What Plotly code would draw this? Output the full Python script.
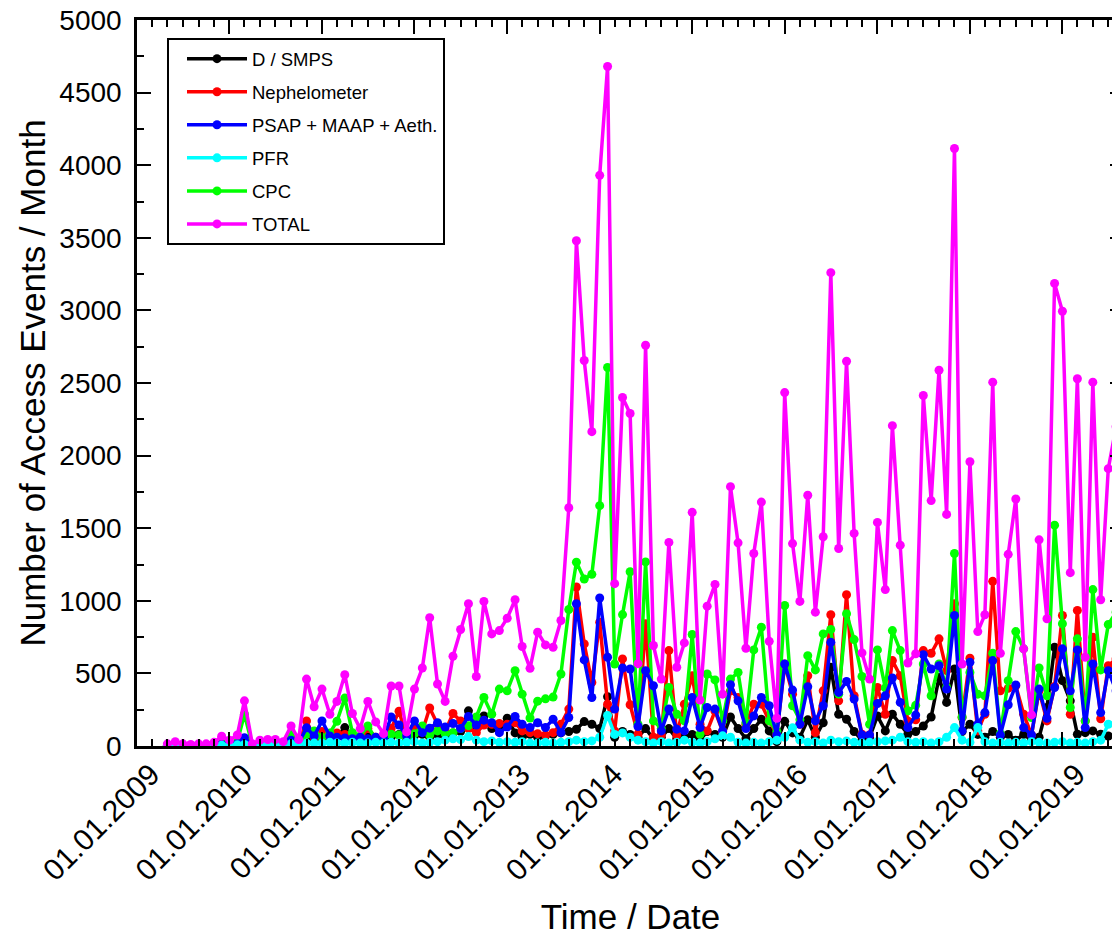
import pandas as pd
import plotly.graph_objects as go

# Monthly values, starting May 2009
start_month = "2009-05-01"

total = [15, 30, 15, 10, 15, 15, 25, 67, 40, 76,
         311, 15, 40, 45, 45, 30, 138, 45, 461, 270,
         392, 219, 307, 491, 224, 120, 307, 166, 85, 413,
         413, 97, 392, 537, 883, 427, 307, 618, 802, 980,
         479, 996, 772, 795, 880, 1007, 685, 535, 784, 696,
         680, 864, 1641, 3480, 2655, 2165, 3930, 4680, 1118, 2400,
         2290, 567, 2760, 692, 461, 1402, 542, 710, 1609, 316,
         963, 1113, 357, 1786, 1399, 673, 1326, 1680, 721, 191,
         2434, 1394, 996, 1727, 922, 1441, 3260, 1360, 2650, 1464,
         641, 461, 1540, 1077, 2206, 1383, 572, 635, 2414, 1690,
         2588, 1595, 4115, 565, 1958, 788, 904, 2506, 639, 1320,
         1701, 669, 214, 1420, 876, 3186, 2994, 1194, 2529, 611,
         2506, 1007, 1910, 2200]

cpc = [5, 5, 5, 5, 5, 5, 10, 20, 15, 30,
       219, 5, 10, 15, 15, 10, 81, 20, 80, 104,
       60, 90, 170, 330, 92, 69, 138, 45, 45, 81,
       76, 40, 85, 138, 76, 104, 85, 92, 120, 140,
       200, 334, 219, 392, 380, 519, 357, 193, 309, 325,
       337, 496, 940, 1266, 1150, 1182, 1655, 2607, 565, 905,
       1200, 150, 1268, 173, 120, 403, 219, 173, 768, 81,
       496, 455, 173, 461, 507, 161, 662, 818, 173, 100,
       968, 277, 180, 622, 524, 772, 802, 357, 911, 733,
       479, 150, 662, 400, 795, 657, 242, 280, 565, 346,
       565, 403, 1326, 200, 507, 357, 346, 639, 85, 450,
       788, 669, 196, 537, 346, 1521, 842, 265, 738, 173,
       1077, 524, 837, 922]

psap = [3, 3, 3, 3, 3, 3, 5, 10, 10, 15,
        57, 3, 10, 10, 10, 10, 40, 20, 125, 69,
        173, 69, 60, 55, 50, 60, 50, 60, 55, 200,
        145, 69, 173, 92, 123, 160, 130, 155, 120, 203,
        145, 178, 160, 92, 131, 203, 150, 127, 160, 127,
        184, 92, 196, 980, 593, 334, 1019, 611, 254, 537,
        530, 134, 519, 415, 104, 254, 116, 104, 334, 127,
        265, 254, 104, 422, 311, 120, 207, 334, 277, 76,
        565, 385, 150, 408, 173, 277, 714, 369, 445, 323,
        76, 76, 293, 346, 468, 300, 127, 213, 629, 530,
        553, 392, 899, 104, 576, 150, 230, 588, 76, 284,
        420, 127, 76, 392, 191, 403, 669, 380, 662, 127,
        565, 230, 519, 380]

neph = [2, 2, 2, 2, 2, 2, 5, 10, 5, 10,
        40, 2, 5, 5, 5, 5, 20, 10, 173, 60,
        100, 70, 90, 80, 60, 50, 120, 60, 50, 120,
        240, 60, 130, 100, 262, 150, 100, 224, 173, 120,
        92, 145, 150, 155, 150, 160, 104, 92, 85, 76,
        92, 150, 254, 1095, 703, 438, 853, 288, 104, 600,
        284, 81, 842, 60, 76, 657, 76, 288, 484, 150,
        104, 240, 100, 380, 334, 150, 288, 288, 173, 81,
        565, 357, 150, 484, 92, 380, 904, 311, 1042, 346,
        81, 76, 403, 219, 588, 484, 173, 180, 657, 639,
        738, 519, 980, 196, 604, 104, 219, 1134, 380, 397,
        415, 219, 76, 380, 173, 410, 899, 219, 934, 173,
        749, 188, 553, 600]

smps = [2, 2, 2, 2, 2, 2, 3, 5, 5, 10,
        30, 2, 5, 5, 5, 5, 20, 10, 60, 40,
        60, 50, 60, 127, 50, 40, 60, 50, 40, 60,
        80, 40, 70, 80, 60, 80, 60, 90, 100, 242,
        120, 207, 120, 110, 191, 90, 60, 80, 60, 70,
        80, 90, 100, 115, 168, 150, 120, 340, 60, 100,
        80, 60, 120, 50, 60, 120, 50, 60, 80, 40,
        100, 80, 60, 200, 120, 50, 120, 184, 104, 30,
        170, 90, 60, 180, 60, 160, 542, 219, 184, 100,
        40, 60, 207, 104, 219, 150, 81, 100, 138, 200,
        472, 300, 530, 100, 150, 80, 60, 100, 60, 80,
        40, 80, 40, 60, 265, 680, 450, 311, 81, 92,
        104, 81, 69, 60]

pfr = [2, 2, 2, 2, 2, 2, 3, 5, 5, 8,
       10, 5, 8, 10, 10, 10, 15, 15, 20, 20,
       20, 25, 20, 20, 25, 20, 20, 25, 20, 25,
       20, 25, 30, 20, 25, 30, 40, 50, 45, 65,
       40, 30, 35, 25, 30, 25, 30, 20, 20, 25,
       20, 25, 30, 40, 30, 35, 60, 210, 80, 90,
       60, 40, 30, 20, 30, 20, 25, 40, 25, 20,
       30, 50, 70, 60, 25, 20, 25, 20, 30, 40,
       60, 125, 40, 25, 30, 20, 40, 30, 35, 25,
       20, 25, 30, 35, 40, 60, 30, 25, 30, 20,
       30, 60, 127, 40, 25, 127, 30, 20, 25, 20,
       25, 20, 30, 25, 20, 25, 30, 20, 25, 20,
       30, 40, 150, 160]

year_ticks = list(range(2009, 2020))
tick_labels = ["01.01.%d" % y for y in year_ticks]

dates = pd.date_range(start_month, periods=len(total), freq="MS")

FONT = "Liberation Sans, Arial, sans-serif"

# (name, data, color, legend rank); draw order chosen so cyan/magenta sit on top
series = [
    ("D / SMPS", smps, "#000000", 1),
    ("Nephelometer", neph, "#FF0000", 2),
    ("CPC", cpc, "#00FF00", 5),
    ("PSAP + MAAP + Aeth.", psap, "#0000FF", 3),
    ("PFR", pfr, "#00FFFF", 4),
    ("TOTAL", total, "#FF00FF", 6),
]

fig = go.Figure()
for name, vals, color, rank in series:
    fig.add_trace(go.Scatter(
        x=dates, y=vals, name=name, mode="lines+markers",
        line=dict(color=color, width=3.5),
        marker=dict(color=color, size=9, symbol="circle"),
        legendrank=rank, legendgroup=name,
    ))

# The original figure continues slightly beyond the right edge of the picture
fig.update_layout(
    width=1124, height=938,
    margin=dict(l=137, r=0, t=20, b=192, autoexpand=False),
    plot_bgcolor="white", paper_bgcolor="white",
    font=dict(family=FONT, color="black"),
    showlegend=True,
    legend=dict(
        x=0.0304, y=0.975, xanchor="left", yanchor="top",
        bgcolor="white", bordercolor="black", borderwidth=2,
        font=dict(size=18.5, family=FONT, color="black"),
        itemwidth=60, tracegroupgap=6, indentation=13,
    ),
)

fig.update_xaxes(
    type="date",
    range=["2009-01-01", "2019-09-01"],
    tickvals=["%d-01-01" % y for y in year_ticks],
    ticktext=tick_labels,
    tickangle=-45,
    tickfont=dict(size=30, family=FONT, color="black"),
    ticklabelshift=14, ticklabelstandoff=-4,
    ticks="inside", ticklen=14, tickwidth=2, tickcolor="black",
    minor=dict(ticks="inside", ticklen=7, tickwidth=2, tickcolor="black",
               dtick="M2", tick0="2009-01-01", showgrid=False),
    showline=True, linewidth=2.5, linecolor="black", mirror="allticks",
    showgrid=False, zeroline=False, automargin=False,
    title=dict(text="Time / Date", font=dict(size=35, family=FONT, color="black"), standoff=19),
)

fig.update_yaxes(
    range=[0, 5000], tick0=0, dtick=500,
    tickfont=dict(size=28, family=FONT, color="black"),
    ticks="inside", ticklen=14, tickwidth=2, tickcolor="black",
    minor=dict(ticks="inside", ticklen=7, tickwidth=2, tickcolor="black",
               dtick=250, showgrid=False),
    showline=True, linewidth=2.5, linecolor="black", mirror="allticks",
    showgrid=False, zeroline=False, automargin=False,
    ticklabelstandoff=7,
    title=dict(text="Number of Access Events / Month", font=dict(size=35, family=FONT, color="black"), standoff=4),
)

fig.write_html(
    "out.html",
    config={"displayModeBar": False},
    post_script="document.body.style.margin='0';document.body.style.overflow='hidden';",
)
